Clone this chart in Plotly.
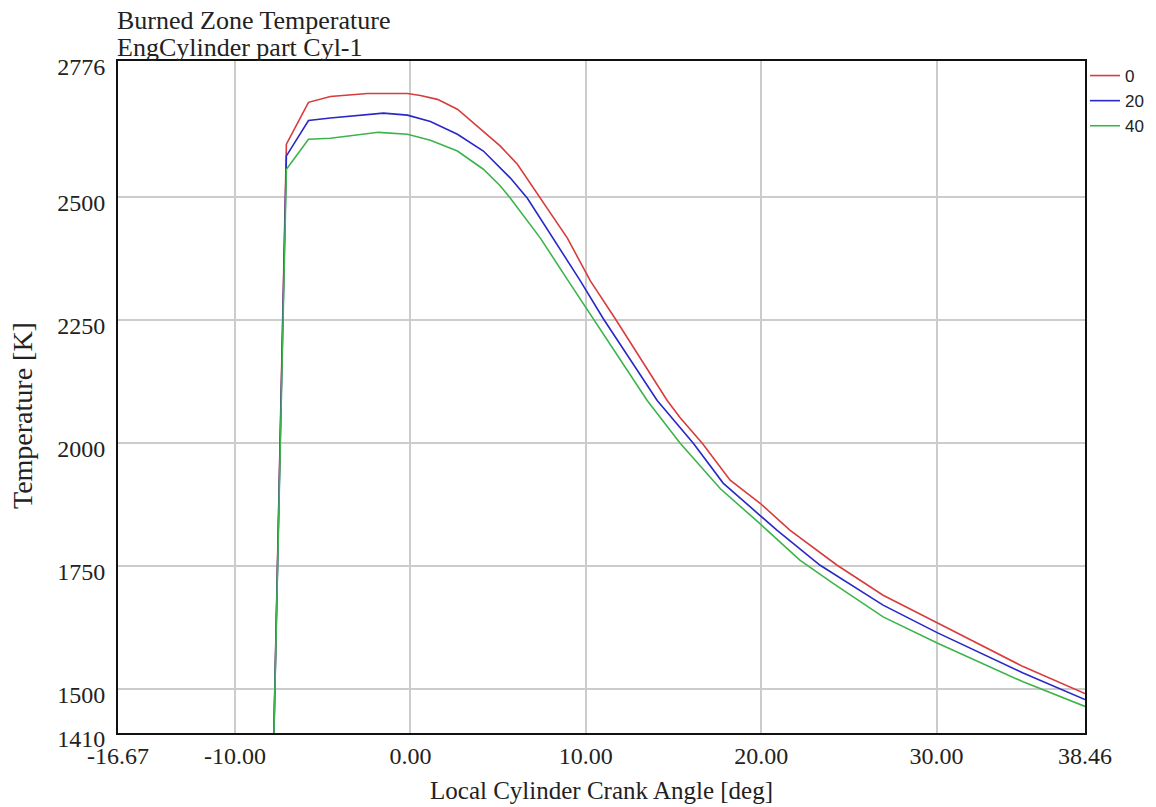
import plotly.graph_objects as go

# Crank angle [deg] and burned zone temperature [K] per case
angle_0 = [-8.0, -7.07, -5.81, -4.56, -2.45, -0.17, 0.57, 1.54, 2.68, 4.16, 5.13, 6.10, 7.41,
           8.95, 10.26, 11.68, 14.64, 15.38, 16.64, 18.23, 19.94, 21.65, 24.33, 26.95, 30.03,
           32.88, 34.93, 38.46]
temp_0 = [1050, 2607, 2692, 2704, 2710, 2710, 2706, 2698, 2678, 2633, 2603, 2566, 2497,
          2416, 2329, 2252, 2086, 2051, 1999, 1924, 1877, 1822, 1751, 1690, 1634,
          1583, 1545, 1490]

angle_20 = [-8.0, -7.07, -5.81, -4.56, -1.54, -0.17, 1.14, 2.68, 4.16, 5.13, 5.70, 6.67, 8.15,
            9.69, 11.0, 14.07, 16.13, 17.83, 19.94, 20.91, 23.36, 26.95, 30.03, 34.93,
            38.46]
temp_20 = [1050, 2583, 2655, 2660, 2670, 2666, 2653, 2627, 2593, 2558, 2538, 2497, 2416,
           2329, 2252, 2086, 1999, 1918, 1852, 1822, 1751, 1670, 1614, 1532,
           1478]

angle_40 = [-8.0, -7.07, -5.81, -4.56, -1.82, -0.17, 1.14, 2.68, 4.16, 5.13, 5.70, 7.41, 9.00,
            10.43, 13.5, 15.38, 17.66, 19.94, 22.22, 24.1, 26.95, 30.03, 34.93, 38.46]
temp_40 = [1050, 2556, 2617, 2619, 2631, 2627, 2615, 2593, 2556, 2522, 2497, 2416, 2329,
           2252, 2086, 1999, 1907, 1835, 1761, 1714, 1646, 1593, 1514, 1464]

series_names = ["0", "20", "40"]
series_colors = ["#d83c3c", "#2828c8", "#3cb44b"]

x_tickvals = [-16.67, -10.0, 0.0, 10.0, 20.0, 30.0, 38.46]
x_ticktext = ["-16.67", "-10.00", "0.00", "10.00", "20.00", "30.00", "38.46"]
y_tickvals = [1410, 1500, 1750, 2000, 2250, 2500, 2776]
y_ticktext = ["1410", "1500", "1750", "2000", "2250", "2500", "2776"]

serif = "Liberation Serif, Times New Roman, serif"
PLOT_H = 807 - 61 - 74
PLOT_W = 1156 - 118 - 71

fig = go.Figure()
for xs, ys, name, color in zip([angle_0, angle_20, angle_40], [temp_0, temp_20, temp_40],
                               series_names, series_colors):
    fig.add_trace(go.Scatter(x=xs, y=ys, mode="lines", name=name,
                             line=dict(color=color, width=1.6)))

fig.update_layout(
    width=1156, height=807,
    margin=dict(l=118, r=71, t=61, b=74, autoexpand=False),
    paper_bgcolor="white", plot_bgcolor="white",
    font=dict(family=serif, size=24, color="#222222"),
    showlegend=True,
    legend=dict(x=1.0, xanchor="left", y=1.0 + 3 / PLOT_H, yanchor="top",
                font=dict(family="Liberation Sans, Arial, sans-serif", size=17, color="#222222"),
                itemwidth=30, bgcolor="rgba(0,0,0,0)", tracegroupgap=0,
                borderwidth=0),
    annotations=[
        dict(text="Burned Zone Temperature", xref="paper", yref="paper",
             x=0, y=1 + 41 / PLOT_H, xanchor="left", yanchor="middle", xshift=-3,
             showarrow=False, font=dict(family=serif, size=26, color="#222222")),
        dict(text="EngCylinder part Cyl-1", xref="paper", yref="paper",
             x=0, y=1 + 14 / PLOT_H, xanchor="left", yanchor="middle", xshift=-3,
             showarrow=False, font=dict(family=serif, size=26, color="#222222")),
        dict(text="Temperature [K]", xref="paper", yref="paper", textangle=-90,
             x=(22 - 118) / PLOT_W, y=(733 - 416) / PLOT_H,
             xanchor="center", yanchor="middle",
             showarrow=False, font=dict(family=serif, size=28, color="#222222")),
    ],
)

fig.update_xaxes(
    range=[-16.67, 38.46], tickmode="array", tickvals=x_tickvals, ticktext=x_ticktext,
    showgrid=True, gridcolor="#cccccc", gridwidth=1.5, zeroline=False,
    showline=True, linecolor="#111111", linewidth=2, mirror=True, ticks="",
    title=dict(text="Local Cylinder Crank Angle [deg]", standoff=14,
               font=dict(family=serif, size=25)),
    tickfont=dict(family=serif, size=24),
)
fig.update_yaxes(
    range=[1410, 2776], tickmode="array", tickvals=y_tickvals, ticktext=y_ticktext,
    showgrid=True, gridcolor="#cccccc", gridwidth=1.5, zeroline=False,
    showline=True, linecolor="#111111", linewidth=2, mirror=True, ticks="",
    ticklabelstandoff=6, ticklabelshift=6,
    tickfont=dict(family=serif, size=24),
)

fig.write_html("out.html")
